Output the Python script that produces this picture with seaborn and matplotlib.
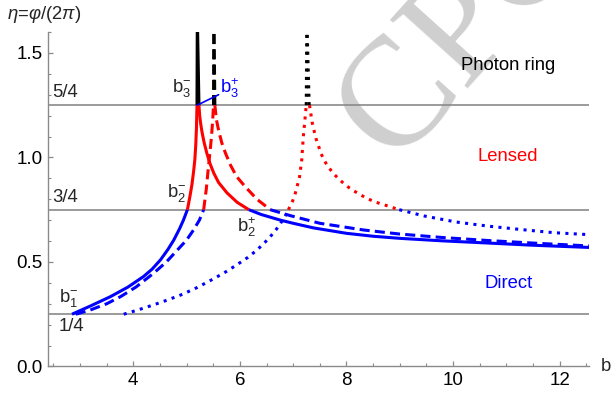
import numpy as np
import pandas as pd
import matplotlib
matplotlib.use("Agg")
import matplotlib.pyplot as plt
from matplotlib.ticker import MultipleLocator
import seaborn as sns

# ---------------- data ----------------
# solid curve
solid_direct_in_b = [2.85, 3.2, 3.57, 3.9, 4.19, 4.35, 4.51, 4.65, 4.76, 4.87, 4.94, 5.015]
solid_direct_in_eta = [0.25, 0.29, 0.334, 0.38, 0.43, 0.465, 0.51, 0.56, 0.605, 0.66, 0.70, 0.75]
solid_lensed_in_b = [5.015, 5.06, 5.10, 5.13, 5.155, 5.172, 5.185, 5.195]
solid_lensed_in_eta = [0.75, 0.81, 0.87, 0.93, 0.99, 1.06, 1.14, 1.25]
solid_ring_in_b = [5.195, 5.200]
solid_ring_in_eta = [1.25, 1.62]
solid_ring_out_b = [5.232, 5.205]
solid_ring_out_eta = [1.25, 1.62]
solid_lensed_out_b = [5.232, 5.245, 5.265, 5.29, 5.33, 5.38, 5.44, 5.51, 5.6, 5.76, 5.95, 6.168]
solid_lensed_out_eta = [1.25, 1.20, 1.16, 1.12, 1.07, 1.02, 0.97, 0.925, 0.88, 0.83, 0.785, 0.75]
solid_direct_out_b = [6.168, 6.4, 6.76, 7.0, 7.38, 8.0, 8.5, 9.0, 9.8, 10.7, 11.5, 12.6]
solid_direct_out_eta = [0.75, 0.727, 0.70, 0.685, 0.663, 0.637, 0.623, 0.613, 0.601, 0.590, 0.580, 0.569]

# dashed curve
dashed_direct_in_b = [2.92, 3.19, 3.5, 3.76, 4.05, 4.38, 4.62, 4.82, 5.0, 5.13, 5.24, 5.32]
dashed_direct_in_eta = [0.25, 0.27, 0.30, 0.334, 0.38, 0.446, 0.50, 0.555, 0.605, 0.653, 0.70, 0.75]
dashed_lensed_in_b = [5.32, 5.37, 5.41, 5.445, 5.47, 5.49, 5.505]
dashed_lensed_in_eta = [0.75, 0.85, 0.956, 1.04, 1.11, 1.18, 1.25]
dashed_ring_in_b = [5.505, 5.51]
dashed_ring_in_eta = [1.25, 1.62]
dashed_ring_out_b = [5.53, 5.515]
dashed_ring_out_eta = [1.25, 1.62]
dashed_lensed_out_b = [5.53, 5.56, 5.60, 5.66, 5.73, 5.83, 5.94, 6.1, 6.32, 6.57]
dashed_lensed_out_eta = [1.25, 1.18, 1.13, 1.07, 1.02, 0.96, 0.908, 0.86, 0.80, 0.75]
dashed_direct_out_b = [6.57, 6.94, 7.5, 8.32, 8.98, 9.8, 10.69, 11.6, 12.6]
dashed_direct_out_eta = [0.75, 0.722, 0.685, 0.653, 0.634, 0.617, 0.602, 0.589, 0.576]

# dotted curve
dotted_direct_in_b = [3.82, 4.08, 4.36, 4.64, 4.92, 5.2, 5.51, 5.75, 5.94, 6.15, 6.32,
                      6.47, 6.57, 6.68, 6.76, 6.85, 6.91]
dotted_direct_in_eta = [0.25, 0.27, 0.293, 0.318, 0.345, 0.378, 0.42, 0.455, 0.486, 0.522, 0.557,
                        0.594, 0.621, 0.655, 0.684, 0.72, 0.75]
dotted_lensed_in_b = [6.91, 6.99, 7.04, 7.08, 7.12, 7.16, 7.19, 7.22, 7.245]
dotted_lensed_in_eta = [0.75, 0.792, 0.829, 0.868, 0.908, 0.988, 1.10, 1.18, 1.25]
dotted_ring_in_b = [7.245, 7.255]
dotted_ring_in_eta = [1.25, 1.62]
dotted_ring_out_b = [7.30, 7.26]
dotted_ring_out_eta = [1.25, 1.62]
dotted_lensed_out_b = [7.306, 7.332, 7.356, 7.388, 7.425, 7.475, 7.525, 7.587, 7.669, 7.769,
                       7.881, 7.994, 8.119, 8.256, 8.393, 8.537, 8.675, 8.831, 8.99]
dotted_lensed_out_eta = [1.25, 1.207, 1.167, 1.132, 1.092, 1.055, 1.017, 0.983, 0.951, 0.919,
                         0.891, 0.865, 0.843, 0.822, 0.803, 0.787, 0.776, 0.763, 0.75]
dotted_direct_out_b = [8.99, 9.456, 10.06, 10.67, 11.28, 11.89, 12.6]
dotted_direct_out_eta = [0.75, 0.720, 0.691, 0.671, 0.655, 0.640, 0.630]

boundary_levels = [0.25, 0.75, 1.25]
boundary_labels = ["1/4", "3/4", "5/4"]
x_ticks = [4, 6, 8, 10, 12]
y_ticks = [0.0, 0.5, 1.0, 1.5]
y_tick_labels = ["0.0", "0.5", "1.0", "1.5"]

# ---------------- styling ----------------
sns.set_theme(style="white")
plt.rcParams['font.family'] = ['Liberation Sans', 'DejaVu Sans']
plt.rcParams['mathtext.fontset'] = 'custom'
plt.rcParams['mathtext.rm'] = 'Liberation Sans'
plt.rcParams['mathtext.it'] = 'Liberation Sans:italic'
plt.rcParams['mathtext.bf'] = 'Liberation Sans:bold'

BLUE, RED, BLACK = "#0000ff", "#ff0000", "#000000"
GRAY = "#8a8a8a"
LW = 2.2
SOLID = "-"
DASHED = (0, (3.3, 1.7))
DOTTED = (0, (1.0, 1.75))

fig = plt.figure(figsize=(6.11, 3.94), dpi=100)
ax = fig.add_axes([0.0786, 0.0698, 0.8854, 0.849])
ax.set_facecolor("none")

# watermark
fig.text(0.758, 0.926, "CPC", rotation=48, fontsize=112, color="#cfcfcf",
         family="Liberation Serif", ha="center", va="center",
         rotation_mode="anchor", zorder=-5)

for lvl in boundary_levels:
    ax.axhline(lvl, color=GRAY, lw=1.2, zorder=1)

segments = [
    (solid_direct_in_b, solid_direct_in_eta, BLUE, SOLID),
    (solid_lensed_in_b, solid_lensed_in_eta, RED, SOLID),
    (solid_ring_in_b, solid_ring_in_eta, BLACK, SOLID),
    (solid_ring_out_b, solid_ring_out_eta, BLACK, SOLID),
    (solid_lensed_out_b, solid_lensed_out_eta, RED, SOLID),
    (solid_direct_out_b, solid_direct_out_eta, BLUE, SOLID),
    (dashed_direct_in_b, dashed_direct_in_eta, BLUE, DASHED),
    (dashed_lensed_in_b, dashed_lensed_in_eta, RED, DASHED),
    (dashed_ring_in_b, dashed_ring_in_eta, BLACK, DASHED),
    (dashed_ring_out_b, dashed_ring_out_eta, BLACK, DASHED),
    (dashed_lensed_out_b, dashed_lensed_out_eta, RED, DASHED),
    (dashed_direct_out_b, dashed_direct_out_eta, BLUE, DASHED),
    (dotted_direct_in_b, dotted_direct_in_eta, BLUE, DOTTED),
    (dotted_lensed_in_b, dotted_lensed_in_eta, RED, DOTTED),
    (dotted_ring_in_b, dotted_ring_in_eta, BLACK, DOTTED),
    (dotted_ring_out_b, dotted_ring_out_eta, BLACK, DOTTED),
    (dotted_lensed_out_b, dotted_lensed_out_eta, RED, DOTTED),
    (dotted_direct_out_b, dotted_direct_out_eta, BLUE, DOTTED),
]
for bs, es, col, ls in segments:
    sns.lineplot(x=bs, y=es, ax=ax, color=col, linestyle=ls, linewidth=LW,
                 sort=False, estimator=None, legend=False, zorder=3)
    ax.lines[-1].set_dash_capstyle("butt")
    ax.lines[-1].set_solid_capstyle("butt")

ax.set_xlim(2.4, 12.55)
ax.set_ylim(0, 1.6)

# axes look (Mathematica style)
for s in ["top", "right"]:
    ax.spines[s].set_visible(False)
for s in ["left", "bottom"]:
    ax.spines[s].set_color(GRAY)
    ax.spines[s].set_linewidth(1.0)
ax.set_xticks(x_ticks)
ax.set_xticklabels([str(t) for t in x_ticks])
ax.set_yticks(y_ticks)
ax.set_yticklabels(y_tick_labels)
ax.xaxis.set_minor_locator(MultipleLocator(0.5))
ax.yaxis.set_minor_locator(MultipleLocator(0.1))
ax.tick_params(which="major", direction="in", length=3.5, width=0.9, color=GRAY,
               labelsize=13.5, labelcolor="black", pad=4, bottom=True, left=True)
ax.tick_params(which="minor", direction="in", length=2.0, width=0.8, color=GRAY,
               bottom=True, left=True)
ax.grid(False)

FS = 13.3
# boundary labels
ax.text(2.48, 1.31, "5/4", fontsize=FS, ha="left", va="center")
ax.text(2.48, 0.81, "3/4", fontsize=FS, ha="left", va="center")
ax.text(2.59, 0.19, "1/4", fontsize=FS, ha="left", va="center")

# crossing labels
ax.text(2.6, 0.33, r"$\mathrm{b}_{1}^{-}$", fontsize=FS, ha="left", va="center")
ax.text(4.63, 0.83, r"$\mathrm{b}_{2}^{-}$", fontsize=FS, ha="left", va="center")
ax.text(4.73, 1.33, r"$\mathrm{b}_{3}^{-}$", fontsize=FS, ha="left", va="center")
ax.text(5.62, 1.33, r"$\mathrm{b}_{3}^{+}$", fontsize=FS, ha="left", va="center", color=BLUE)
ax.text(5.94, 0.665, r"$\mathrm{b}_{2}^{+}$", fontsize=FS, ha="left", va="center")
pointer_b = [5.20, 5.60]
pointer_eta = [1.25, 1.30]
ax.plot(pointer_b, pointer_eta, color=BLUE, lw=1.2, zorder=4)

# region labels
ax.text(11.04, 1.44, "Photon ring", fontsize=FS, ha="center", va="center", color=BLACK)
ax.text(11.03, 1.004, "Lensed", fontsize=FS, ha="center", va="center", color=RED)
ax.text(11.05, 0.398, "Direct", fontsize=FS, ha="center", va="center", color=BLUE)

# axis labels
fig.text(0.012, 0.962, r"$\eta$=$\varphi$/(2$\pi$)", fontsize=FS, ha="left", va="center")
fig.text(0.983, 0.069, "b", fontsize=FS, ha="left", va="center")

fig.savefig("out.png", dpi=100)
